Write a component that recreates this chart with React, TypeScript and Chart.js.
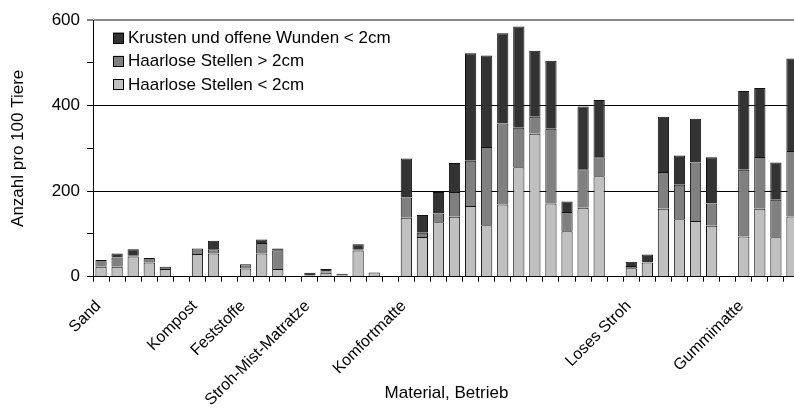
import React, { useEffect, useRef } from "react";
import { Chart, registerables } from "chart.js";

Chart.register(...registerables);

// Categories (Material); empty strings are unlabeled farms / gaps
const categories: string[] = [
  "Sand", "", "", "", "", "",
  "Kompost", "", "",
  "Feststoffe", "", "", "",
  "Stroh-Mist-Matratze", "", "", "", "", "",
  "Komfortmatte", "", "", "", "", "", "", "", "", "", "", "", "", "",
  "Loses Stroh", "", "", "", "", "", "",
  "Gummimatte", "", "", "",
];

// Haarlose Stellen < 2cm
const lightValues: (number | null)[] = [
  23, 23, 47, 33, 18, null,
  53, 54, null,
  19, 54, 18, null,
  2, 9, 3, 61, 10, null,
  138, 93, 127, 140, 165, 120, 169, 256, 334, 171, 106, 161, 235, null,
  20, 33, 159, 134, 130, 119, null,
  94, 159, 92, 141,
];

// Haarlose Stellen > 2cm
const midValues: (number | null)[] = [
  16, 22, 2, 11, 5, null,
  13, 10, null,
  10, 25, 44, null,
  1, 3, 1, 2, 0, null,
  47, 10, 21, 58, 106, 183, 189, 92, 40, 175, 45, 90, 44, null,
  5, 1, 86, 81, 137, 52, null,
  156, 121, 88, 153,
];

// Krusten und offene Wunden < 2cm
const darkValues: (number | null)[] = [
  0, 9, 15, 0, 0, null,
  0, 20, null,
  0, 8, 4, null,
  6, 6, 3, 13, 0, null,
  91, 41, 50, 68, 251, 214, 211, 237, 154, 159, 25, 147, 134, null,
  10, 18, 129, 68, 102, 108, null,
  184, 161, 87, 216,
];

const seriesNames = [
  "Haarlose Stellen < 2cm",
  "Haarlose Stellen > 2cm",
  "Krusten und offene Wunden < 2cm",
];
const seriesColors = ["#c0c0c0", "#808080", "#333333"];
const yLabelValues = [0, 200, 400, 600];
const yGridValues = [200, 400];
const yTitle = "Anzahl pro 100 Tiere";
const xTitle = "Material, Betrieb";

const FONT = "'Liberation Sans', Arial, sans-serif";

export default function App() {
  const ref = useRef<HTMLCanvasElement>(null);

  useEffect(() => {
    if (!ref.current) return;

    // Legend drawn inside the plot area, top-left
    const insideLegend = {
      id: "insideLegend",
      afterDraw(chart: any) {
        const ctx = chart.ctx;
        const ds = chart.data.datasets.slice().reverse();
        const left = chart.chartArea.left + 20;
        const top0 = chart.chartArea.top + 18;
        const step = 23.3;
        const box = 11;
        ctx.save();
        ctx.font = `17px ${FONT}`;
        ctx.textBaseline = "middle";
        ctx.textAlign = "left";
        ds.forEach((d: any, i: number) => {
          const cy = top0 + i * step;
          ctx.fillStyle = d.backgroundColor;
          ctx.fillRect(left, cy - box / 2, box, box);
          ctx.strokeStyle = "#000";
          ctx.lineWidth = 1;
          ctx.strokeRect(Math.round(left) + 0.5, Math.round(cy - box / 2) + 0.5, box - 1, box - 1);
          ctx.fillStyle = "#000";
          ctx.fillText(d.label, left + 15, cy + 0.5);
        });
        ctx.restore();
      },
    };

    // Category labels rotated 45°, ending just below each category centre
    const rotatedXLabels = {
      id: "rotatedXLabels",
      afterDraw(chart: any) {
        const xs = chart.scales.x;
        const ctx = chart.ctx;
        ctx.save();
        ctx.font = `16px ${FONT}`;
        ctx.fillStyle = "#000";
        ctx.textAlign = "right";
        ctx.textBaseline = "alphabetic";
        (chart.data.labels as string[]).forEach((lab, i) => {
          if (!lab) return;
          const x = xs.getPixelForValue(i);
          ctx.save();
          ctx.translate(x + 0.5, xs.top + 30);
          ctx.rotate(-Math.PI / 4);
          ctx.fillText(lab, 0, 0);
          ctx.restore();
        });
        ctx.restore();
      },
    };

    const series = [lightValues, midValues, darkValues];

    const chart = new Chart(ref.current, {
      type: "bar",
      data: {
        labels: categories,
        datasets: series.map((vals, i) => ({
          label: seriesNames[i],
          data: vals,
          backgroundColor: seriesColors[i],
          borderColor: "#111",
          borderWidth: (c: any) => (c.raw ? 1 : 0),
          borderSkipped: "start",
          barPercentage: 0.7,
          categoryPercentage: 1,
        })),
      },
      options: {
        responsive: false,
        animation: false,
        devicePixelRatio: 1,
        layout: { padding: { top: 20, left: 0, right: 0, bottom: 0 } },
        plugins: {
          legend: { display: false },
          tooltip: { enabled: false },
        },
        scales: {
          x: {
            stacked: true,
            offset: true,
            grid: {
              offset: true,
              color: "rgba(0,0,0,0)",
              drawOnChartArea: false,
              tickColor: "#000",
              tickLength: 5,
            },
            border: { color: "#000", width: 1 },
            ticks: {
              display: false,
              autoSkip: false,
            },
            title: {
              display: true,
              text: xTitle,
              color: "#000",
              font: { family: FONT, size: 17 },
              padding: { top: 0, bottom: 4 },
            },
            afterFit: (s: any) => {
              s.height = 131.3;
              s.paddingLeft = 0;
              s.paddingRight = 0;
            },
          },
          y: {
            stacked: true,
            min: 0,
            max: 600,
            ticks: {
              stepSize: 100,
              color: "#000",
              padding: 7,
              font: { family: FONT, size: 17 },
              callback: (v: any) => (yLabelValues.includes(Number(v)) ? String(v) : ""),
            },
            grid: {
              color: (c: any) =>
                c.tick && c.tick.value === 600
                  ? "#8a8a8a"
                  : c.tick && yGridValues.includes(c.tick.value)
                  ? "#000"
                  : "rgba(0,0,0,0)",
              lineWidth: (c: any) => (c.tick && c.tick.value === 600 ? 2 : 1),
              tickColor: "#000",
              tickWidth: 1,
              tickLength: 6,
            },
            border: { color: "#000", width: 1 },
            title: {
              display: true,
              text: yTitle,
              color: "#000",
              font: { family: FONT, size: 17 },
              padding: { top: 8, bottom: 0 },
            },
            afterFit: (s: any) => {
              s.width = 93;
            },
          },
        },
      },
      plugins: [insideLegend, rotatedXLabels],
    });

    return () => chart.destroy();
  }, []);

  return (
    <div
      style={{
        position: "fixed",
        left: 0,
        top: 0,
        width: 794,
        height: 408,
        overflow: "hidden",
        background: "#fff",
      }}
    >
      <canvas ref={ref} width={800} height={408} style={{ display: "block", width: 800, height: 408 }} />
    </div>
  );
}
